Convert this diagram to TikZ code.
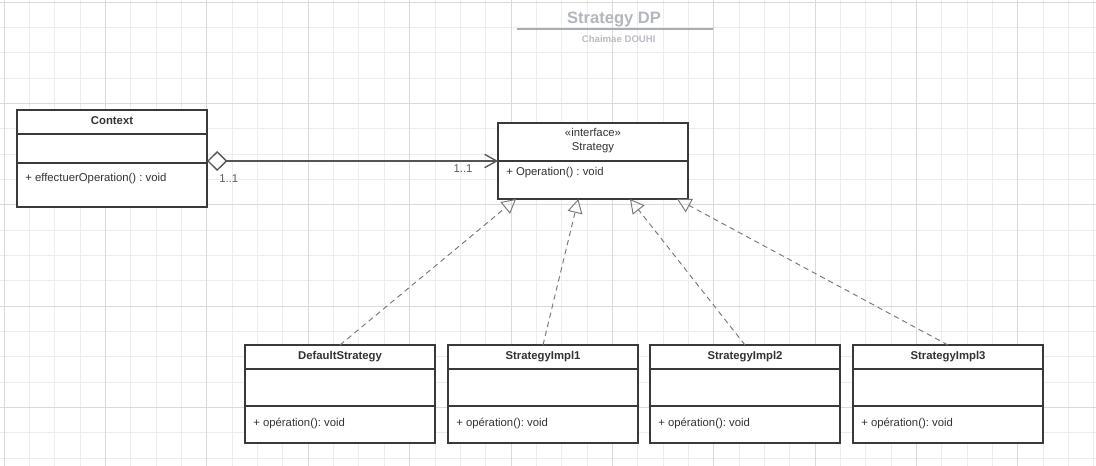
\documentclass[tikz,border=0pt]{standalone}
\usepackage{fontspec}
\setmainfont{Liberation Sans}
\usetikzlibrary{arrows.meta}
\frenchspacing
\definecolor{minorc}{HTML}{EDEDED}
\definecolor{majorc}{HTML}{DADADA}
\definecolor{boxc}{HTML}{3A3A3A}
\definecolor{txtc}{HTML}{333333}
\definecolor{linec}{HTML}{555555}
\definecolor{multc}{HTML}{5A5A5A}
\definecolor{dashc}{HTML}{777777}
\definecolor{titlec}{HTML}{B2B6BE}
\definecolor{subc}{HTML}{B9BCC3}
\definecolor{rulec}{HTML}{A8ACB4}
\begin{document}
\begin{tikzpicture}[x=0.75pt,y=-0.75pt,
  minorgrid/.style={draw=minorc, line width=0.75pt},
  majorgrid/.style={draw=majorc, line width=0.75pt},
  umlbox/.style={draw=boxc, fill=white, line width=1.1pt, inner sep=0pt, outer sep=0pt, anchor=north west, minimum width=142.5pt},
  divider/.style={draw=boxc, line width=1.1pt},
  cname/.style={font=\fontsize{8.5pt}{10pt}\selectfont\bfseries\frenchspacing, text=txtc, anchor=base, inner sep=0pt},
  ctext/.style={font=\fontsize{8.5pt}{10pt}\selectfont\frenchspacing, text=txtc, anchor=base, inner sep=0pt},
  member/.style={font=\fontsize{8.5pt}{10pt}\selectfont\frenchspacing, text=txtc, anchor=base west, inner sep=0pt},
  mult/.style={font=\fontsize{8.5pt}{10pt}\selectfont, text=multc, anchor=base west, inner sep=0pt},
  assoc/.style={draw=linec, line width=1pt,
    {Diamond[open, length=15.3pt, width=15pt, line width=1pt]}-{Straight Barb[length=9pt, width=10pt, line width=1pt]}},
  realize/.style={draw=dashc, line width=0.7pt, dash pattern=on 4pt off 3pt,
    -{Triangle[open, length=10.5pt, width=11.25pt, line width=0.7pt]}},
]
% background and bounding box
\fill[white] (0,0) rectangle (1096,466);
\useasboundingbox (0,0) rectangle (1096,466);
% grid
\foreach \i in {0,...,43} {\draw[minorgrid] ({4.3+\i*25.335},0) -- ({4.3+\i*25.335},466);}
\foreach \i in {0,...,18} {\draw[minorgrid] (0,{2.3+\i*25.335}) -- (1096,{2.3+\i*25.335});}
\foreach \i in {0,4,...,40} {\draw[majorgrid] ({4.3+\i*25.335},0) -- ({4.3+\i*25.335},466);}
\foreach \i in {0,4,...,16} {\draw[majorgrid] (0,{2.3+\i*25.335}) -- (1096,{2.3+\i*25.335});}

% title
\node[font=\fontsize{12.4pt}{14pt}\selectfont\bfseries, text=titlec, anchor=base, inner sep=0pt] (title) at (614,23.3) {Strategy DP};
\draw[rulec, line width=1pt] (516.7,29) -- (713.3,29);
\node[font=\fontsize{7.2pt}{8pt}\selectfont\bfseries, text=subc, anchor=base, inner sep=0pt] (author) at (618.7,42.3) {Chaimae DOUHI};

% Context
\node[umlbox, minimum height=72.75pt] (ctx) at (17,110) {};
\draw[divider] ([yshift=-18pt]ctx.north west) -- ([yshift=-18pt]ctx.north east);
\draw[divider] ([yshift=-39.75pt]ctx.north west) -- ([yshift=-39.75pt]ctx.north east);
\node[cname] (ctxn) at (112,125) {Context};
\node[member] (ctxop) at (25,181.5) {+ effectuerOperation() : void};

% Strategy interface
\node[umlbox, minimum height=57pt] (strat) at (498,123) {};
\draw[divider] ([yshift=-28.5pt]strat.north west) -- ([yshift=-28.5pt]strat.north east);
\node[ctext] (stereo) at (593,136.7) {«interface»};
\node[ctext] (stratn) at (593,150.7) {Strategy};
\node[member] (stratop) at (506,175.7) {+ Operation() : void};

% implementations
\foreach \nm/\lbl/\xx in {ds/DefaultStrategy/245, si1/StrategyImpl1/448, si2/StrategyImpl2/650, si3/StrategyImpl3/853} {
  \node[umlbox, minimum height=73.5pt] (\nm) at (\xx,345) {};
  \draw[divider] ([yshift=-18pt]\nm.north west) -- ([yshift=-18pt]\nm.north east);
  \draw[divider] ([yshift=-45.75pt]\nm.north west) -- ([yshift=-45.75pt]\nm.north east);
  \node[cname] (\nm n) at ({\xx+95},359.7) {\lbl};
  \node[member] (\nm op) at ({\xx+8},426.7) {+ opération(): void};
}

% aggregation
\draw[assoc] (ctx.east |- strat.west) -- (strat.west);
\node[mult] (m1) at (219,182.7) {1..1};
\node[mult] (m2) at (453.3,172.3) {1..1};

% realizations
\coordinate (t1) at (516,199);
\coordinate (t2) at (578.3,199);
\coordinate (t3) at (630,199);
\coordinate (t4) at (677,199);
\draw[realize] (ds.north) -- (t1);
\draw[realize] (si1.north) -- (t2);
\draw[realize] (si2.north) -- (t3);
\draw[realize] (si3.north) -- (t4);
\end{tikzpicture}
\end{document}
